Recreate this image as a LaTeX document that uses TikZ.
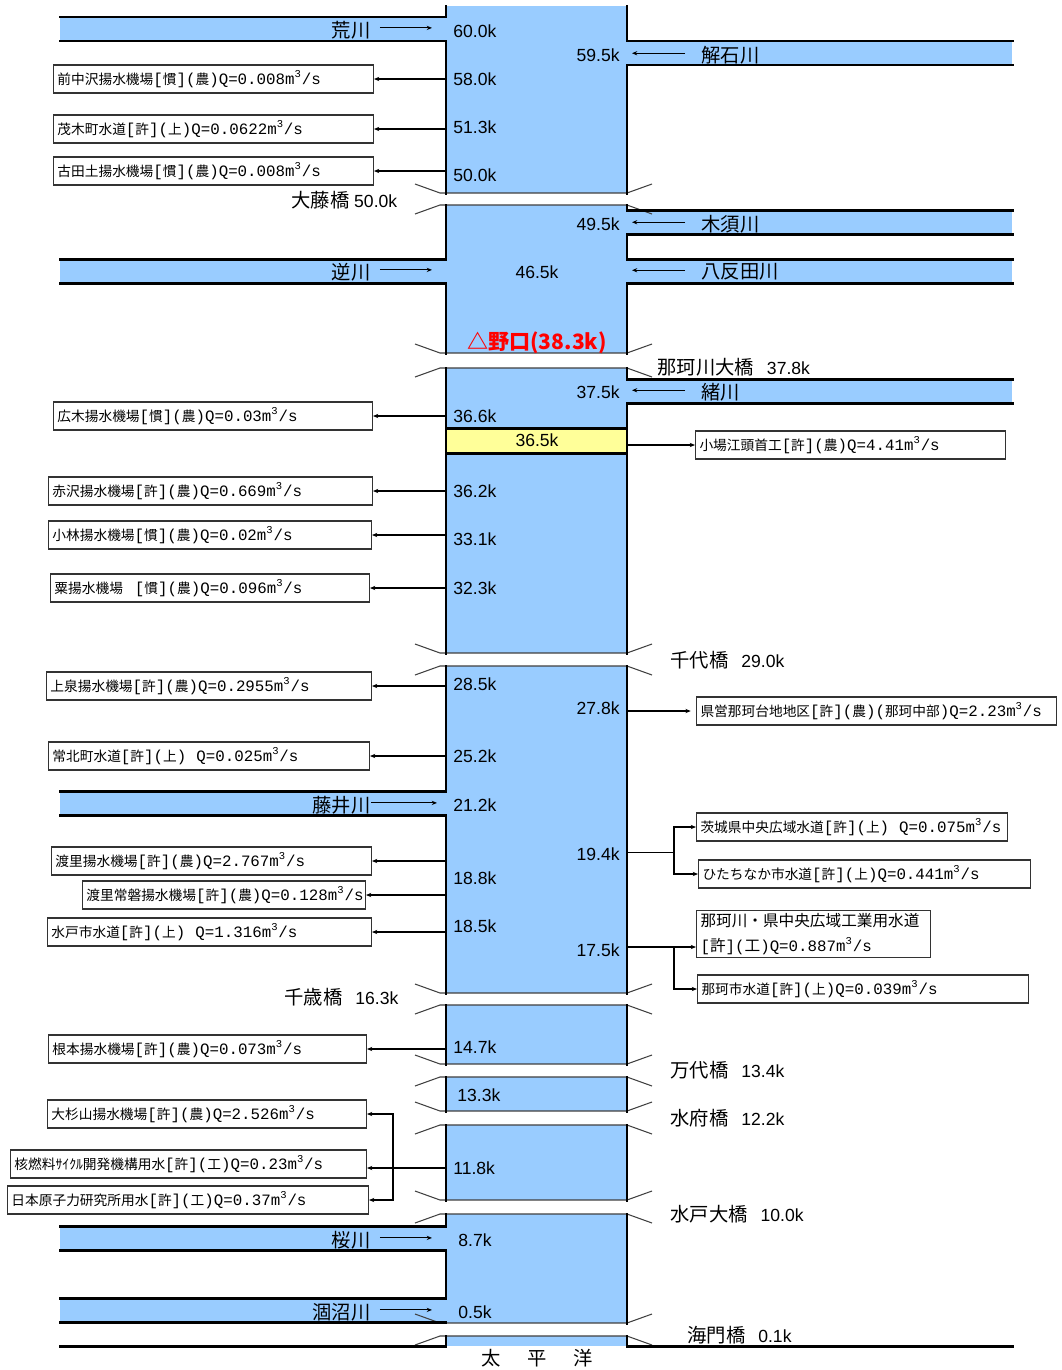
\documentclass[tikz,border=0pt]{standalone}
\usepackage{fontspec}
\setmainfont{Liberation Sans}
\newfontfamily\jp{Noto Sans CJK JP}
\newfontfamily\latm{Liberation Mono}
\usetikzlibrary{arrows.meta}
\newdimen\pxu \pxu=0.02cm
\definecolor{riverblue}{RGB}{153,204,255}
\definecolor{markyellow}{RGB}{255,255,153}
\newcommand\jpk[1]{{\jp\fontsize{11}{13}\selectfont #1}}
\newcommand\latn[1]{{\latm\fontsize{9}{11}\selectfont #1}}
\newcommand\tagkq[2]{\latn{[}#1\latn{](}#2\latn{)}}
\newcommand\qflow[1]{\latn{Q=#1m\textsuperscript{3}/s}}
\def\bridgegap(#1,#2){%
  \fill[white] (436,#1) rectangle (637,#2);
  \draw[brline] (415,#1-9) -- (440,#1) -- (627,#1) -- (652,#1-9);
  \draw[brline] (415,#2+9) -- (440,#2) -- (627,#2) -- (652,#2+9);}
\tikzset{
  bank/.style={line width=1.7pt, line cap=rect},
  brline/.style={line width=0.6pt, black!75},
  flow/.style={line width=0.6pt, -{Stealth[length=3pt,width=2.4pt]}},
  kmL/.style={anchor=west, inner sep=0pt, font=\fontsize{10}{12}\selectfont},
  kmR/.style={anchor=east, inner sep=0pt, font=\fontsize{10}{12}\selectfont},
  trib/.style={inner sep=0pt, font=\jp\fontsize{11}{13}\selectfont},
  bridgelbl/.style={anchor=west, inner sep=0pt, font=\fontsize{10}{12}\selectfont},
  wbox/.style={draw=black!80, line width=0.6pt, minimum height=28\pxu, inner xsep=4\pxu,
    inner ysep=1pt, text width=#1\pxu, align=left, font=\jp\fontsize{7.8}{11}\selectfont},
}
\begin{document}
\begin{tikzpicture}[x=0.02cm,y=-0.02cm]
  \useasboundingbox (0,0) rectangle (1062,1370);

  %%%%% RIVER %%%%%
  \fill[riverblue] (446,6) rectangle (627,1346);
  \foreach \ya/\yb in {17/41,259/283,791/815,1226/1250,1298/1322}
    \fill[riverblue] (60,\ya) rectangle (446,\yb);
  \foreach \ya/\yb in {41/65,210/234,259/283,379/403}
    \fill[riverblue] (627,\ya) rectangle (1012,\yb);

  % bridges
  \bridgegap(193,205)
  \bridgegap(353,368)
  \bridgegap(653,666)
  \bridgegap(993,1005)
  \bridgegap(1064,1077)
  \bridgegap(1111,1125)
  \bridgegap(1200,1214)
  \bridgegap(1323,1336)

  \draw[bank, fill=markyellow] (446,428) rectangle (627,453);

  % banks
  \foreach \ya/\yb in {6/17,41/193,205/259,283/353,368/653,666/791,815/993,1005/1064,1077/1111,1125/1200,1214/1226,1250/1298,1336/1346}
    \draw[bank] (446,\ya) -- (446,\yb);
  \foreach \ya/\yb in {6/41,65/193,205/210,234/259,283/353,368/379,403/653,666/993,1005/1064,1077/1111,1125/1200,1214/1323,1336/1346}
    \draw[bank] (627,\ya) -- (627,\yb);
  \foreach \yy in {17,41,259,283,791,815,1226,1250,1298,1322,1346}
    \draw[bank] (60,\yy) -- (446,\yy);
  \foreach \yy in {41,65,210,234,259,283,379,403,1346}
    \draw[bank] (627,\yy) -- (1012,\yy);

  \coordinate (bankL) at (446,0);
  \coordinate (bankR) at (627,0);
  \coordinate (mouthL) at (432,0);
  \coordinate (mouthR) at (632,0);

  %%%%% KM POSTS %%%%%
  \foreach \km/\yy in {60.0k/31,58.0k/79,51.3k/127,50.0k/175,36.6k/416,36.2k/491,33.1k/539,32.3k/588,28.5k/684,25.2k/756,21.2k/805,18.8k/878,18.5k/926,14.7k/1047,11.8k/1168}
    \node[kmL] (kL\yy) at (453,\yy) {\km};
  \node[kmL] (kL1095) at (457,1095) {13.3k};
  \node[kmL] (kL1240) at (458,1240) {8.7k};
  \node[kmL] (kL1312) at (458,1312) {0.5k};
  \foreach \km/\yy in {59.5k/55,49.5k/224,37.5k/392,27.8k/708,19.4k/854,17.5k/950}
    \node[kmR] (kR\yy) at (620,\yy) {\km};
  \node[inner sep=0pt, font=\fontsize{10}{12}\selectfont] (k465) at (537,272) {46.5k};
  \node[inner sep=0pt, font=\fontsize{10}{12}\selectfont] (k365) at (537,440) {36.5k};
  \node[inner sep=0pt, text=red, font=\jp\bfseries\fontsize{12}{14}\selectfont] (noguchi) at (537,343) {△野口(38.3k)};

  %%%%% TRIBUTARIES %%%%%
  \node[trib, anchor=east] (tArakawa) at (371,30) {荒川};
  \node[trib, anchor=east] (tSakasa) at (371,272) {逆川};
  \node[trib, anchor=east] (tFujii) at (371,805) {藤井川};
  \node[trib, anchor=east] (tSakura) at (371,1240) {桜川};
  \node[trib, anchor=east] (tHinuma) at (371,1312) {涸沼川};
  \node[trib, anchor=west] (tKaiseki) at (701,55) {解石川};
  \node[trib, anchor=west] (tKisu) at (701,224) {木須川};
  \node[trib, anchor=west] (tHattanda) at (701,272) {八反田川};
  \node[trib, anchor=west] (tOgawa) at (701,392) {緒川};
  \foreach \tn in {tArakawa,tSakasa,tSakura,tHinuma}
    \draw[flow] ([xshift=5pt,yshift=1.2pt]\tn.east) -- ([yshift=1.2pt]\tn.east -| mouthL);
  \draw[flow] ([yshift=1.2pt]tFujii.east) -- ([yshift=1.2pt]tFujii.east -| 437,0);
  \foreach \tn in {tKaiseki,tKisu,tHattanda,tOgawa}
    \draw[flow] ([xshift=-9pt,yshift=1pt]\tn.west) -- ([yshift=1pt]\tn.west -| mouthR);

  %%%%% BRIDGES %%%%%
  \node[bridgelbl] (bOfuji) at (291,200) {\jpk{大藤橋} 50.0k};
  \node[bridgelbl] (bNakagawa) at (657,367) {\jpk{那珂川大橋}\hspace{13\pxu}37.8k};
  \node[bridgelbl] (bChiyo) at (670,660) {\jpk{千代橋}\hspace{13\pxu}29.0k};
  \node[bridgelbl] (bChitose) at (284,997) {\jpk{千歳橋}\hspace{13\pxu}16.3k};
  \node[bridgelbl] (bBandai) at (670,1070) {\jpk{万代橋}\hspace{13\pxu}13.4k};
  \node[bridgelbl] (bSuifu) at (670,1118) {\jpk{水府橋}\hspace{13\pxu}12.2k};
  \node[bridgelbl] (bMitoO) at (670,1214) {\jpk{水戸大橋}\hspace{13\pxu}10.0k};
  \node[bridgelbl] (bKaimon) at (687,1335) {\jpk{海門橋}\hspace{13\pxu}0.1k};
  \node[trib] (pacific) at (537,1358) {太\hspace{27\pxu}平\hspace{27\pxu}洋};

  %%%%% INTAKES LEFT %%%%%
  \node[wbox=312, anchor=east] (l1) at (374,79) {前中沢揚水機場\tagkq{慣}{農}\qflow{0.008}};
  \node[wbox=312, anchor=east] (l2) at (374,129) {茂木町水道\tagkq{許}{上}\qflow{0.0622}};
  \node[wbox=312, anchor=east] (l3) at (374,171) {古田土揚水機場\tagkq{慣}{農}\qflow{0.008}};
  \node[wbox=311, anchor=east] (l4) at (373,416) {広木揚水機場\tagkq{慣}{農}\qflow{0.03}};
  \node[wbox=316, anchor=east] (l5) at (373,491) {赤沢揚水機場\tagkq{許}{農}\qflow{0.669}};
  \node[wbox=315, anchor=east] (l6) at (372,535) {小林揚水機場\tagkq{慣}{農}\qflow{0.02}};
  \node[wbox=311, anchor=east] (l7) at (370,588) {粟揚水機場\hspace{12\pxu}\tagkq{慣}{農}\qflow{0.096}};
  \node[wbox=317, anchor=east] (l8) at (372,686) {上泉揚水機場\tagkq{許}{農}\qflow{0.2955}};
  \node[wbox=313, anchor=east] (l9) at (370,756) {常北町水道\tagkq{許}{上}\hspace{10\pxu}\qflow{0.025}};
  \node[wbox=312, anchor=east] (l10) at (372,861) {渡里揚水機場\tagkq{許}{農}\qflow{2.767}};
  \node[wbox=275, anchor=east] (l11) at (366,895) {渡里常磐揚水機場\tagkq{許}{農}\qflow{0.128}};
  \node[wbox=316, anchor=east] (l12) at (372,932) {水戸市水道\tagkq{許}{上}\hspace{10\pxu}\qflow{1.316}};
  \node[wbox=310, anchor=east] (l13) at (367,1049) {根本揚水機場\tagkq{許}{農}\qflow{0.073}};
  \node[wbox=311, anchor=east] (l14) at (367,1114) {大杉山揚水機場\tagkq{許}{農}\qflow{2.526}};
  \node[wbox=348, anchor=east] (l15) at (367,1164) {核燃料ｻｲｸﾙ開発機構用水\tagkq{許}{工}\qflow{0.23}};
  \node[wbox=353, anchor=east] (l16) at (369,1200) {日本原子力研究所用水\tagkq{許}{工}\qflow{0.37}};
  \foreach \bx in {l1,l2,l3,l4,l5,l6,l7,l8,l9,l10,l11,l12,l13}
    \draw[flow] (bankL |- \bx.east) -- (\bx.east);
  \coordinate (j118) at (393,1168);
  \draw[flow] (bankL |- j118) -- (l15.east |- j118);
  \draw[flow] (j118) |- (l14.east);
  \draw[flow] (j118) |- (l16.east);

  %%%%% INTAKES RIGHT %%%%%
  \node[wbox=302, anchor=west] (r1) at (695,445) {小場江頭首工\tagkq{許}{農}\qflow{4.41}};
  \node[wbox=352, anchor=west] (r2) at (696,711) {県営那珂台地地区\tagkq{許}{農}\latn{(}那珂中部\latn{)}\qflow{2.23}};
  \node[wbox=303, anchor=west] (r3) at (696,827) {茨城県中央広域水道\tagkq{許}{上}\hspace{10\pxu}\qflow{0.075}};
  \node[wbox=324, anchor=west] (r4) at (698,874) {ひたちなか市水道\tagkq{許}{上}\qflow{0.441}};
  \node[wbox=226, anchor=west, minimum height=47\pxu, font=\jp\fontsize{8.9}{14}\selectfont] (r5) at (696,934) {那珂川・県中央広域工業用水道\\\tagkq{許}{工}\qflow{0.887}};
  \node[wbox=323, anchor=west] (r6) at (697,989) {那珂市水道\tagkq{許}{上}\qflow{0.039}};
  \draw[flow] (bankR |- r1.west) -- (r1.west);
  \draw[flow] (bankR |- r2.west) -- ([xshift=-3pt]r2.west);
  \coordinate (j194) at (674,852);
  \draw (bankR |- j194) -- (j194);
  \draw[flow] (j194) |- (r3.west);
  \draw[flow] (j194) |- (r4.west);
  \coordinate (j175) at (674,947);
  \draw[flow] (bankR |- j175) -- (r5.west |- j175);
  \draw[flow] (j175) |- (r6.west);
\end{tikzpicture}
\end{document}
